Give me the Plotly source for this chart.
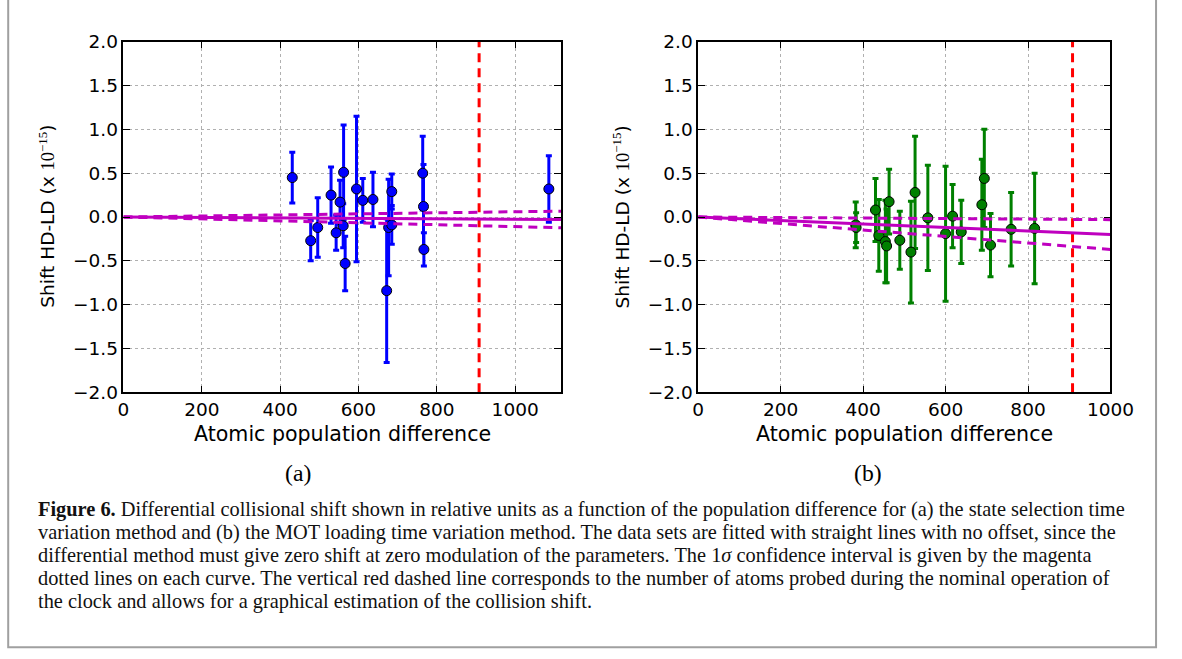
import plotly.graph_objects as go

# ---------------- data ----------------
# Panel (a): state selection time variation
xa = [431, 478, 496, 530, 543, 553, 561, 562, 566, 595, 611, 637, 672, 677, 685, 685, 764, 766, 767, 1086]
ya = [0.45, -0.27, -0.12, 0.25, -0.18, 0.17, -0.10, 0.51, -0.53, 0.32, 0.19, 0.20, -0.84, -0.12, -0.09, 0.29, 0.50, 0.12, -0.37, 0.32]
ea = [0.29, 0.23, 0.34, 0.32, 0.20, 0.25, 0.25, 0.54, 0.31, 0.83, 0.25, 0.31, 0.82, 0.55, 0.22, 0.20, 0.42, 0.48, 0.19, 0.38]

# Panel (b): MOT loading time variation
xb = [382, 383, 430, 438, 454, 457, 463, 489, 516, 526, 557, 600, 617, 638, 688, 694, 709, 759, 816]
yb = [-0.09, -0.12, 0.08, -0.21, -0.28, -0.33, 0.175, -0.265, -0.40, 0.28, -0.01, -0.19, 0.01, -0.17, 0.14, 0.44, -0.32, -0.14, -0.13]
eb = [0.26, 0.17, 0.36, 0.41, 0.47, 0.42, 0.37, 0.33, 0.58, 0.64, 0.60, 0.77, 0.36, 0.36, 0.52, 0.56, 0.36, 0.42, 0.63]

# fit (no offset): slope and 1-sigma of slope
slope_a, sigma_a = -2.5e-5, 8.5e-5
slope_b, sigma_b = -2.0e-4, 1.7e-4
fit_xa = [0, 1117]
fit_xb = [0, 1000]
nominal_atoms = 908

xticks = [0, 200, 400, 600, 800, 1000]
yticks = [-2.0, -1.5, -1.0, -0.5, 0.0, 0.5, 1.0, 1.5, 2.0]

def fmt(v):
    s = f"{v:.1f}"
    return s.replace("-", "\u2212")

W, H = 1182, 659
# empirical mapping between layout pixels and photographed pixels
AX, BX = 0.975, 5.8
AY, BY = 0.969, 10.3
FS = 1 / 0.972

def px(x):
    return ((x - BX) / AX) / W
def py(y):
    return 1 - ((y - BY) / AY) / H
def fs(s):
    return s * FS

MAG = "#bf00bf"
fig = go.Figure()

panels = [
    ("x", "y", xa, ya, ea, "#0000ff", slope_a, sigma_a, fit_xa),
    ("x2", "y2", xb, yb, eb, "#008000", slope_b, sigma_b, fit_xb),
]
for xr, yr, xs, ys, es, col, sl, sg, fx in panels:
    # red vertical nominal line
    fig.add_trace(go.Scatter(x=[nominal_atoms, nominal_atoms], y=[-2, 2], mode="lines",
                             line=dict(color="#ff0000", width=3, dash="9px,6px"),
                             xaxis=xr, yaxis=yr, showlegend=False, hoverinfo="skip"))
    # data with error bars
    fig.add_trace(go.Scatter(x=xs, y=ys, mode="markers",
                             marker=dict(color=col, size=10, line=dict(color="black", width=1)),
                             error_y=dict(type="data", array=es, visible=True, color=col,
                                          thickness=3, width=3),
                             xaxis=xr, yaxis=yr, showlegend=False))
    # fit line and confidence band
    fig.add_trace(go.Scatter(x=fx, y=[sl * v for v in fx], mode="lines",
                             line=dict(color=MAG, width=3),
                             xaxis=xr, yaxis=yr, showlegend=False, hoverinfo="skip"))
    for s2 in (sl + sg, sl - sg):
        fig.add_trace(go.Scatter(x=fx, y=[s2 * v for v in fx], mode="lines",
                                 line=dict(color=MAG, width=3, dash="9px,6px"),
                                 xaxis=xr, yaxis=yr, showlegend=False, hoverinfo="skip"))

axis_common = dict(showline=True, linecolor="black", linewidth=1.5, mirror="allticks",
                   ticks="inside", ticklen=7, tickwidth=1, tickcolor="black",
                   showgrid=True, gridcolor="#b0b0b0", griddash="dot", gridwidth=1,
                   zeroline=False,
                   tickfont=dict(family="DejaVu Sans", size=fs(18), color="black"))

ydom = [py(392), py(41)]
fig.update_layout(
    width=W, height=H,
    margin=dict(l=0, r=0, t=0, b=0),
    paper_bgcolor="white", plot_bgcolor="white",
    xaxis=dict(domain=[px(123.3), px(561)], range=[0, 1117], tickvals=xticks,
               ticktext=[str(v) for v in xticks], anchor="y", **axis_common),
    yaxis=dict(domain=ydom, range=[-2, 2], tickvals=yticks,
               ticktext=[fmt(v) for v in yticks], anchor="x", **axis_common),
    xaxis2=dict(domain=[px(698.3), px(1110.7)], range=[0, 1000], tickvals=xticks,
                ticktext=[str(v) for v in xticks], anchor="y2", **axis_common),
    yaxis2=dict(domain=ydom, range=[-2, 2], tickvals=yticks,
                ticktext=[fmt(v) for v in yticks], anchor="x2", **axis_common),
)

ann = []
ytitle = "Shift HD-LD (x <span style='font-family:Liberation Serif'>10<sup>\u221215</sup></span>)"
for cx, tx in [((123.3 + 561) / 2, 46), ((698.3 + 1110.7) / 2, 621)]:
    ann.append(dict(x=px(cx), y=py(434), xref="paper", yref="paper", text="Atomic population difference",
                    showarrow=False, xanchor="center", yanchor="middle",
                    font=dict(family="DejaVu Sans", size=fs(20), color="black")))
    ann.append(dict(x=px(tx), y=py(216), xref="paper", yref="paper", text=ytitle, textangle=-90,
                    showarrow=False, xanchor="center", yanchor="middle",
                    font=dict(family="DejaVu Sans", size=fs(18), color="black")))
for lab, cx in [("(a)", 298), ("(b)", 868)]:
    ann.append(dict(x=px(cx), y=py(473), xref="paper", yref="paper", text=lab, showarrow=False,
                    xanchor="center", yanchor="middle",
                    font=dict(family="Liberation Serif", size=fs(23), color="black")))

caption = [
    "<b>Figure 6.</b> Differential collisional shift shown in relative units as a function of the population difference for (a) the state selection time",
    "variation method and (b) the MOT loading time variation method. The data sets are fitted with straight lines with no offset, since the",
    "differential method must give zero shift at zero modulation of the parameters. The 1<i>\u03c3</i> confidence interval is given by the magenta",
    "dotted lines on each curve. The vertical red dashed line corresponds to the number of atoms probed during the nominal operation of",
    "the clock and allows for a graphical estimation of the collision shift.",
]
for i, line in enumerate(caption):
    ann.append(dict(x=px(36), y=py(509 + 23 * i), xref="paper", yref="paper", text=line, showarrow=False,
                    xanchor="left", yanchor="middle",
                    font=dict(family="Liberation Serif", size=fs(19.8), color="#111111")))
fig.update_layout(annotations=ann)

fig.add_shape(type="rect", xref="paper", yref="paper",
              x0=px(8), x1=min(px(1165), 1180 / W), y0=py(647), y1=1.02,
              line=dict(color="#a0a0a0", width=2))

fig.write_html("out.html", config={"displayModeBar": False},
               post_script="document.body.style.margin='0';document.body.style.padding='0';"
                           "document.documentElement.style.overflow='hidden';")
